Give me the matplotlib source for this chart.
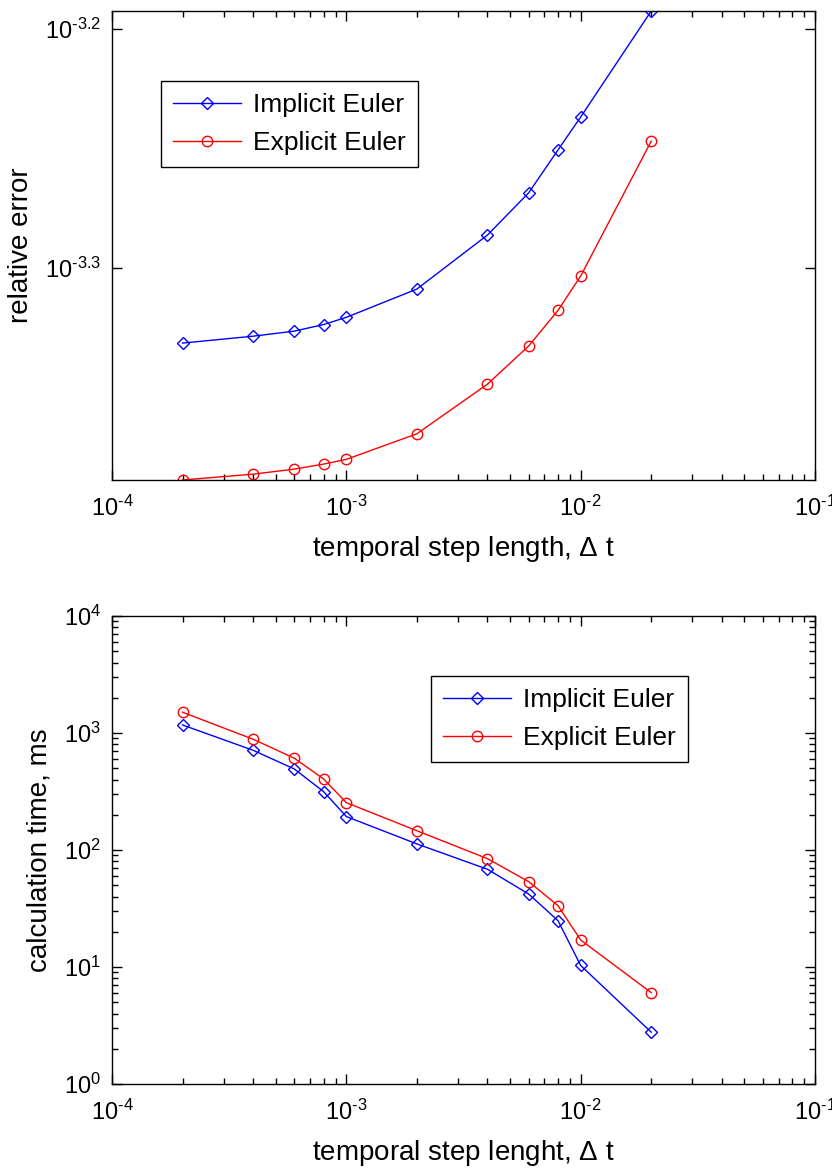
import numpy
import matplotlib
matplotlib.use('Agg')
from matplotlib import pyplot, ticker

# FONT
matplotlib.rcParams['font.family'] = ['Liberation Sans', 'DejaVu Sans']
matplotlib.rcParams['mathtext.fontset'] = 'custom'
matplotlib.rcParams['mathtext.rm'] = 'Liberation Sans'
matplotlib.rcParams['mathtext.default'] = 'regular'

# data
step = [2e-4, 4e-4, 6e-4, 8e-4, 1e-3, 2e-3, 4e-3, 6e-3, 8e-3, 1e-2, 2e-2]
err_implicit = [4.663e-4, 4.694e-4, 4.717e-4, 4.747e-4, 4.780e-4, 4.912e-4,
				5.174e-4, 5.389e-4, 5.616e-4, 5.797e-4, 6.420e-4]
err_explicit = [4.087e-4, 4.110e-4, 4.130e-4, 4.150e-4, 4.169e-4, 4.273e-4,
				4.482e-4, 4.650e-4, 4.812e-4, 4.974e-4, 5.664e-4]
time_implicit = [1170, 711, 492, 315, 193, 112.6, 68.4, 42, 24.9, 10.3, 2.77]
time_explicit = [1503, 884, 608, 404, 253.7, 146, 84.3, 53.6, 33.4, 17.0, 6.03]
labels = ['Implicit Euler', 'Explicit Euler']
xticks = [1e-4, 1e-3, 1e-2, 1e-1]
xticklabels = [r'$10^{\text{-}4}$', r'$10^{\text{-}3}$', r'$10^{\text{-}2}$', r'$10^{\text{-}1}$']
err_yticks = [10**-3.3, 10**-3.2]
err_yticklabels = [r'$10^{\text{-}3.3}$', r'$10^{\text{-}3.2}$']
time_yticks = [1, 10, 100, 1000, 10000]
time_yticklabels = ['$10^{0}$', '$10^{1}$', '$10^{2}$', '$10^{3}$', '$10^{4}$']

TICKSIZE = 17
LABELSIZE = 20
LEGENDSIZE = 19

def draw_panel(fig, rect, yimp, yexp, ylim, yticks, yticklabels, ylabel, xlabel, legpos, yminor=True):
	ax = fig.add_axes(rect)
	ax.plot(step, yimp, color='b', lw=1, marker='D', ms=6, mfc='none', mec='b', mew=1, label=labels[0])
	ax.plot(step, yexp, color='r', lw=1, marker='o', ms=7.5, mfc='none', mec='r', mew=1, label=labels[1])
	ax.set_xscale('log')
	ax.set_yscale('log')
	ax.set_xlim(1e-4, 1e-1)
	ax.set_ylim(ylim)
	ax.set_xticks(xticks)
	ax.set_xticklabels(xticklabels)
	ax.xaxis.set_minor_locator(ticker.LogLocator(base=10, subs=numpy.arange(2, 10)))
	ax.set_yticks(yticks)
	ax.set_yticklabels(yticklabels)
	if yminor:
		ax.yaxis.set_minor_locator(ticker.LogLocator(base=10, subs=numpy.arange(2, 10)))
	else:
		ax.yaxis.set_minor_locator(ticker.NullLocator())
	ax.yaxis.set_minor_formatter(ticker.NullFormatter())
	ax.xaxis.set_minor_formatter(ticker.NullFormatter())
	ax.tick_params(which='both', direction='in', top=True, right=True, colors='k', width=1)
	ax.tick_params(which='major', length=7, labelsize=TICKSIZE)
	ax.tick_params(axis='x', which='major', pad=11)
	ax.tick_params(axis='y', which='major', pad=8)
	ax.tick_params(which='minor', length=4)
	for s in ax.spines.values():
		s.set_linewidth(1)
		s.set_color('k')
	ax.set_ylabel(ylabel, fontsize=LABELSIZE, labelpad=8)
	ax.set_xlabel(xlabel, fontsize=LABELSIZE, labelpad=10)
	leg = ax.legend(loc='upper left', bbox_to_anchor=legpos, bbox_transform=fig.transFigure,
		borderaxespad=0, fontsize=LEGENDSIZE, fancybox=False, framealpha=1, edgecolor='k',
		handlelength=2.6, handletextpad=0.45, borderpad=0.45, labelspacing=0.55)
	leg.get_frame().set_linewidth(1)
	return ax

def main():
	dpi = 100.0
	fig = pyplot.figure(figsize=(832/dpi, 1173/dpi), dpi=dpi)
	draw_panel(fig, [0.1346, 0.5908, 0.845, 0.3998], err_implicit, err_explicit,
		(min(err_explicit), max(err_implicit)), err_yticks, err_yticklabels,
		'relative error', r'temporal step length, $\Delta$ t', (0.1935, 0.9309), yminor=False)
	draw_panel(fig, [0.1346, 0.0759, 0.845, 0.399], time_implicit, time_explicit,
		(1, 1e4), time_yticks, time_yticklabels,
		'calculation time, ms', r'temporal step lenght, $\Delta$ t', (0.518, 0.4237))
	fig.savefig('out.png', dpi=dpi, facecolor='white')

main()
